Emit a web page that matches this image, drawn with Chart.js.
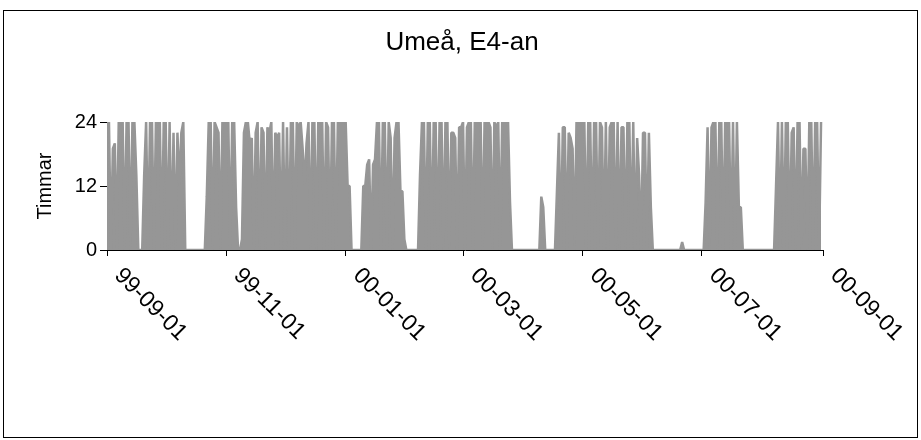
<!DOCTYPE html>
<html>
<head>
<meta charset="utf-8">
<title>Umeå, E4-an</title>
<script src="https://cdn.jsdelivr.net/npm/chart.js@4.4.0/dist/chart.umd.min.js"></script>
<style>
  html, body { margin: 0; padding: 0; background: #fff; }
  canvas { display: block; }
</style>
</head>
<body>
<canvas id="umeaChart" width="921" height="440"></canvas>
<script>
// Hours per day (0-24), one array per month, 1999-09-01 .. 2000-08-31
const hoursSep99 = [24,24,0,19,20,0,24,24,24,0,24,24,0,24,24,14,0,0,0,14,24,0,24,24,0,24,24,24,0,24];
const hoursOct99 = [24,0,24,0,22,0,22,12,22,24,0,0,0,0,0,0,0,0,0,0,0,10,24,24,0,24,23,22,0,24,24];
const hoursNov99 = [24,24,0,24,24,8,0,0,2,22,24,24,20,21,0,22,24,0,23,22,0,23,22,24,0,22,21,22,0,24];
const hoursDec99 = [0,23,0,24,24,0,24,23,24,19,12,20,24,0,24,24,0,24,24,24,0,24,23,0,24,24,0,24,24,24,24];
const hoursJan00 = [24,12,12,0,0,0,0,0,0,12,12,16,17,0,16,17,24,24,0,24,24,0,24,21,0,21,24,24,11,11,2];
const hoursFeb00 = [0,0,0,0,0,0,0,14,24,24,0,24,24,0,24,24,0,24,24,0,24,24,0,22,22,21,0,23,23];
const hoursMar00 = [24,0,23,24,24,0,24,24,24,24,0,24,24,24,23,0,24,23,24,0,24,24,24,24,9,0,0,0,0,0,0];
const hoursApr00 = [0,0,0,0,0,0,0,0,0,10,8,0,0,0,0,0,0,11,22,0,23,23,0,22,21,19,0,24,24,24];
const hoursMay00 = [24,24,0,24,24,0,24,24,0,24,23,0,24,0,23,24,24,0,24,0,23,23,0,24,24,0,24,0,21,14,0];
const hoursJun00 = [22,22,0,22,8,0,0,0,0,0,0,0,0,0,0,0,0,0,0,0,1.5,0,0,0,0,0,0,0,0,0];
const hoursJul00 = [0,0,9,23,0,23,24,24,0,24,24,0,24,24,24,0,24,0,24,8,8,0,0,0,0,0,0,0,0,0,0];
const hoursAug00 = [0,0,0,0,0,0,0,12,24,0,24,0,24,24,0,22,23,0,24,24,0,19,19,0,24,24,0,24,24,0,24];

// Axis ticks: day number counted from 1999-09-01
const tickDays = [0, 61, 122, 182, 243, 304, 366];
const tickLabels = ['99-09-01', '99-11-01', '00-01-01', '00-03-01', '00-05-01', '00-07-01', '00-09-01'];
const yTicks = [0, 12, 24];
const chartTitle = 'Umeå, E4-an';

const hours = [].concat(hoursSep99, hoursOct99, hoursNov99, hoursDec99, hoursJan00, hoursFeb00,
  hoursMar00, hoursApr00, hoursMay00, hoursJun00, hoursJul00, hoursAug00);

const FONT = '"Liberation Sans", Arial, sans-serif';
Chart.defaults.font.family = FONT;
Chart.defaults.color = '#000';

// White background, the title and the thin frame round the whole chart
const chartFrame = {
  id: 'chartFrame',
  beforeDraw(chart) {
    const ctx = chart.ctx;
    ctx.save();
    ctx.fillStyle = '#fff';
    ctx.fillRect(0, 0, chart.width, chart.height);
    ctx.restore();
  },
  afterDraw(chart) {
    const ctx = chart.ctx;
    ctx.save();
    ctx.strokeStyle = '#000';
    ctx.lineWidth = 1;
    ctx.strokeRect(3.5, 10.5, 914, 427);
    // title is centred on the frame, not on the plot area
    ctx.font = '26px ' + FONT;
    ctx.fillStyle = '#000';
    ctx.textAlign = 'center';
    ctx.textBaseline = 'middle';
    ctx.fillText(chartTitle, 462, 43);
    ctx.restore();
  }
};

// Date labels turned 45 degrees clockwise, starting at the tick
const rotatedDateLabels = {
  id: 'rotatedDateLabels',
  afterDraw(chart) {
    const xScale = chart.scales.x;
    const ctx = chart.ctx;
    ctx.save();
    ctx.font = '23px ' + FONT;
    ctx.fillStyle = '#000';
    ctx.textAlign = 'left';
    ctx.textBaseline = 'middle';
    tickDays.forEach(function(day, i) {
      const x = xScale.getPixelForValue(day);
      ctx.save();
      ctx.translate(x + 11, xScale.top + 22);
      ctx.rotate(Math.PI / 4);
      ctx.fillText(tickLabels[i], 0, 0);
      ctx.restore();
    });
    ctx.restore();
  }
};

const ctx = document.getElementById('umeaChart').getContext('2d');
new Chart(ctx, {
  type: 'line',
  data: {
    datasets: [{
      label: 'Timmar',
      data: hours.map(function(h, i) { return { x: i, y: h }; }),
      borderColor: '#969696',
      backgroundColor: '#969696',
      borderWidth: 2.5,
      borderJoinStyle: 'bevel',
      fill: 'origin',
      pointRadius: 0,
      tension: 0
    }]
  },
  options: {
    responsive: false,
    animation: false,
    devicePixelRatio: 1,
    layout: {
      padding: { top: 122, left: 20, right: 98, bottom: 184 }
    },
    plugins: {
      legend: { display: false },
      tooltip: { enabled: false },
      title: { display: false }
    },
    scales: {
      x: {
        type: 'linear',
        min: 0,
        max: 366,
        afterBuildTicks: function(axis) {
          axis.ticks = tickDays.map(function(v) { return { value: v }; });
        },
        ticks: { display: false },
        grid: { drawOnChartArea: false, tickLength: 6, color: '#000' },
        border: { color: '#000', width: 1 }
      },
      y: {
        min: 0,
        max: 24,
        afterBuildTicks: function(axis) {
          axis.ticks = yTicks.map(function(v) { return { value: v }; });
        },
        afterFit: function(axis) {
          axis.width = 87;
        },
        ticks: { font: { size: 20 }, color: '#000', padding: 3 },
        grid: { drawOnChartArea: false, tickLength: 7, color: '#000' },
        border: { color: '#000', width: 1 },
        title: {
          display: true,
          text: 'Timmar',
          color: '#000',
          font: { size: 20 },
          padding: { top: 13, bottom: 0 }
        }
      }
    }
  },
  plugins: [chartFrame, rotatedDateLabels]
});
</script>
</body>
</html>
